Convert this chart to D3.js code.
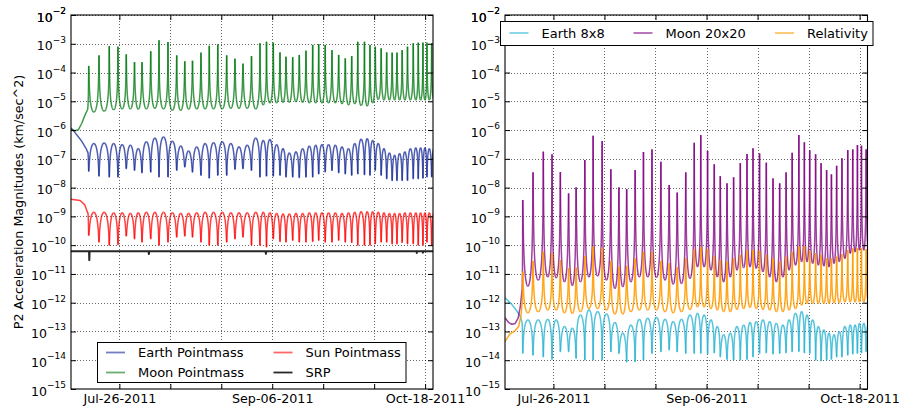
<!DOCTYPE html>
<html>
<head>
<meta charset="utf-8">
<script src="https://cdn.jsdelivr.net/npm/d3@7"></script>
<style>
  body { margin: 0; background: #fff; }
  svg { display: block; }
  text { font-family: "DejaVu Sans", sans-serif; fill: #000; }
</style>
</head>
<body>
<svg id="chart" width="900" height="408"></svg>
<script>
// ---------------------------------------------------------------
// P2 perturbing accelerations, Jul-12-2011 .. Oct-20-2011
// Values are log10 of acceleration magnitude in km/sec^2.
// ---------------------------------------------------------------
const startTime = "2011-07-12T17:00:00Z";
const endTime   = "2011-10-20T04:00:00Z";

// periselene passes, days after startTime
const periDays = [4.86, 7.69, 10.52, 12.91, 15.19, 17.45, 19.51, 21.90, 24.18, 26.65,
  29.04, 31.26, 33.38, 35.71, 37.99, 40.33, 42.77, 45.05, 47.25, 49.59,
  51.92, 53.71, 55.58, 57.42, 59.07, 60.91, 62.72, 64.56, 66.40, 68.05,
  69.84, 71.70, 73.54, 75.36, 77.12, 78.79, 80.63, 82.14, 83.60, 85.22,
  86.73, 88.24, 89.56, 90.99, 92.45, 94.04, 95.41, 96.70, 97.80, 99.09];

// Moon point mass: peak at each periselene, minimum between passes
const moonPmPeak = [-3.77, -3.40, -3.08, -3.10, -3.37, -3.64, -3.64, -3.26, -2.88, -2.94,
  -3.40, -3.61, -3.59, -3.31, -3.07, -3.02, -3.40, -3.52, -3.69, -3.43,
  -2.98, -2.93, -2.96, -3.30, -3.45, -3.47, -3.39, -3.24, -3.04, -3.01,
  -3.04, -3.22, -3.39, -3.51, -3.43, -2.93, -2.93, -3.04, -3.10, -3.16,
  -3.30, -3.31, -3.31, -3.22, -3.10, -2.98, -2.96, -2.96, -2.96, -2.98];
const moonPmLow = [-5.37, -5.34, -5.29, -5.26, -5.26, -5.27, -5.26, -5.24, -5.26, -5.31,
  -5.31, -5.27, -5.26, -5.26, -5.26, -5.26, -5.24, -5.24, -5.24, -5.26,
  -5.12, -5.05, -5.05, -5.03, -5.03, -5.01, -5.03, -5.05, -5.05, -5.05,
  -5.05, -5.05, -5.08, -5.12, -5.08, -5.14, -5.16, -5.05, -4.93, -4.95,
  -4.95, -4.95, -4.95, -4.95, -4.95, -4.95, -4.95, -4.95, -4.95];
const moonPmStart = [[0, -5.97], [1.1, -6.02], [2.0, -5.99], [2.9, -5.78], [3.85, -5.48], [4.5, -5.30]];

// Earth point mass: arch maximum between passes, dip at each pass
const earthPmTop = [-6.47, -6.45, -6.47, -6.51, -6.53, -6.65, -6.41, -6.28, -6.24, -6.39,
  -6.56, -6.74, -6.59, -6.47, -6.44, -6.41, -6.47, -6.59, -6.53, -6.28,
  -6.36, -6.33, -6.51, -6.65, -6.80, -6.76, -6.65, -6.56, -6.53, -6.51,
  -6.51, -6.53, -6.59, -6.65, -6.47, -6.32, -6.30, -6.36, -6.47, -6.65,
  -6.80, -6.88, -6.82, -6.76, -6.65, -6.62, -6.62, -6.62, -6.65];
const earthPmDip = [-7.43, -7.60, -7.63, -7.63, -7.34, -7.40, -7.48, -7.46, -7.63, -7.63,
  -7.40, -7.28, -7.46, -7.57, -7.67, -7.57, -7.57, -7.36, -7.34, -7.40,
  -7.63, -7.60, -7.60, -7.57, -7.63, -7.63, -7.65, -7.63, -7.63, -7.52,
  -7.45, -7.40, -7.48, -7.52, -7.57, -7.52, -7.55, -7.57, -7.40, -7.57,
  -7.69, -7.75, -7.75, -7.75, -7.75, -7.69, -7.69, -7.67, -7.63, -7.63];
const earthPmStart = [[0, -5.93], [1.0, -6.07], [2.8, -6.36], [4.2, -6.65], [4.6, -6.78]];

// Sun point mass
const sunPmTop = [-8.86, -8.86, -8.88, -8.88, -8.90, -8.88, -8.86, -8.86, -8.86, -8.88,
  -8.90, -8.90, -8.88, -8.86, -8.86, -8.86, -8.88, -8.88, -8.88, -8.86,
  -8.86, -8.88, -8.90, -8.92, -8.92, -8.90, -8.90, -8.88, -8.88, -8.88,
  -8.88, -8.88, -8.90, -8.88, -8.86, -8.84, -8.84, -8.84, -8.86, -8.88,
  -8.90, -8.90, -8.90, -8.88, -8.88, -8.88, -8.88, -8.88, -8.88];
const sunPmDip = [-9.66, -9.89, -10.00, -9.98, -9.68, -9.78, -9.89, -9.78, -10.00, -9.89,
  -9.72, -9.68, -9.72, -9.89, -10.00, -10.00, -9.89, -9.78, -9.72, -10.00,
  -10.00, -10.06, -9.78, -9.87, -9.89, -9.83, -9.89, -9.89, -9.87, -9.83,
  -9.89, -9.89, -9.83, -9.89, -9.91, -10.00, -10.00, -10.00, -9.95, -9.89,
  -9.89, -9.95, -9.95, -9.91, -9.95, -9.95, -10.00, -10.00, -9.89, -10.00];
const sunPmStart = [[0, -8.40], [2.5, -8.45], [3.8, -8.60], [4.3, -8.78], [4.6, -8.88]];

// Solar radiation pressure (short eclipse dips)
const srpDays = [0, 4.95, 5.03, 5.11, 21.30, 21.40, 21.50, 53.45, 53.55, 53.65,
  94.95, 95.00, 95.05, 96.65, 96.70, 96.75, 99.46];
const srpExp = [-10.21, -10.21, -10.52, -10.21, -10.21, -10.31, -10.21, -10.21, -10.30, -10.21,
  -10.21, -10.27, -10.21, -10.21, -10.26, -10.21, -10.21];

// Moon 20x20 gravity field
const moonHarmPeak = [-8.43, -7.47, -6.75, -6.84, -7.46, -8.20, -7.99, -7.04, -6.20, -6.38,
  -7.36, -7.99, -8.05, -7.39, -6.76, -6.67, -7.10, -7.91, -8.17, -7.47,
  -6.44, -6.17, -6.73, -7.19, -7.60, -7.85, -7.64, -7.15, -6.83, -6.63,
  -6.81, -7.13, -7.68, -7.85, -7.47, -6.79, -6.17, -6.42, -6.70, -6.84,
  -7.15, -7.39, -7.54, -7.24, -6.98, -6.69, -6.67, -6.52, -6.54, -6.67];
const moonHarmLow = [-11.42, -11.21, -11.10, -11.13, -11.27, -11.40, -11.27, -11.10, -11.07, -11.21,
  -11.50, -11.44, -11.27, -11.10, -11.10, -11.12, -11.21, -11.35, -11.33, -11.15,
  -10.75, -10.75, -10.86, -11.10, -11.27, -11.10, -10.86, -10.78, -10.75, -10.80,
  -10.92, -11.10, -11.27, -11.10, -10.86, -10.69, -10.57, -10.57, -10.63, -10.69,
  -10.72, -10.75, -10.63, -10.57, -10.46, -10.28, -10.23, -10.17, -10.17];
const moonHarmStart = [[0, -12.52], [1.0, -12.69], [1.9, -12.75], [2.8, -12.72], [3.6, -12.54], [4.2, -12.14], [4.67, -11.56]];

// Relativity
const relPeak = [-10.92, -10.55, -10.23, -10.28, -10.52, -10.80, -10.78, -10.38, -10.05, -10.09,
  -10.55, -10.75, -10.72, -10.46, -10.23, -10.23, -10.55, -10.63, -10.77, -10.46,
  -10.14, -10.07, -10.14, -10.38, -10.52, -10.57, -10.46, -10.34, -10.19, -10.17,
  -10.19, -10.34, -10.46, -10.57, -10.40, -10.23, -10.05, -10.03, -10.19, -10.28,
  -10.34, -10.46, -10.46, -10.40, -10.31, -10.17, -10.11, -10.11, -10.11, -10.14];
const relLow = [-12.35, -12.31, -12.25, -12.25, -12.35, -12.37, -12.31, -12.20, -12.20, -12.25,
  -12.39, -12.39, -12.31, -12.25, -12.25, -12.25, -12.31, -12.35, -12.31, -12.23,
  -12.14, -12.14, -12.20, -12.25, -12.31, -12.31, -12.23, -12.20, -12.16, -12.20,
  -12.23, -12.25, -12.31, -12.31, -12.25, -12.20, -12.08, -12.02, -12.02, -12.02,
  -12.02, -12.02, -12.00, -12.00, -11.97, -11.97, -11.97, -11.97, -11.97];
const relStart = [[0, -13.35], [1.4, -13.08], [2.8, -12.97], [3.75, -12.83], [4.4, -12.45], [4.67, -12.05]];

// Earth 8x8 gravity field
const earthHarmTop = [-12.60, -12.60, -12.58, -12.60, -12.83, -12.89, -12.43, -12.25, -12.31, -12.39,
  -12.69, -13.06, -12.78, -12.58, -12.54, -12.51, -12.58, -12.66, -12.58, -12.43,
  -12.37, -12.43, -12.60, -12.83, -13.12, -13.06, -12.83, -12.78, -12.69, -12.66,
  -12.60, -12.66, -12.72, -12.78, -12.60, -12.37, -12.31, -12.43, -12.60, -12.83,
  -12.95, -13.06, -13.12, -13.01, -12.83, -12.78, -12.78, -12.72, -12.72];
const earthHarmDip = [-13.76, -13.82, -13.88, -13.97, -13.70, -13.70, -13.93, -13.99, -13.99, -13.99,
  -13.70, -13.76, -14.05, -14.05, -13.99, -13.76, -13.70, -13.64, -13.70, -13.76,
  -13.76, -13.76, -13.78, -13.74, -13.88, -13.97, -13.99, -13.99, -13.97, -13.88,
  -13.76, -13.74, -13.78, -13.76, -13.74, -13.70, -13.70, -13.74, -13.76, -13.99,
  -14.02, -13.99, -13.97, -13.88, -13.88, -13.82, -13.78, -13.76, -13.74, -13.70];
const earthHarmStart = [[0, -11.83], [1.8, -12.05], [3.2, -12.28], [4.2, -12.48], [4.6, -12.65]];

// axis ticks
const yExponents = d3.range(-15, -1);      // 10^-15 .. 10^-3
const xTickDates = ["2011-07-26", "2011-08-09", "2011-08-23", "2011-09-06", "2011-09-20", "2011-10-04", "2011-10-18"];
const xLabelDates = ["2011-07-26", "2011-09-06", "2011-10-18"];

const leftLegend = [
  { name: "Earth Pointmass", color: "#142896" },
  { name: "Moon Pointmass",  color: "#007a10" },
  { name: "Sun Pointmass",   color: "#ff0000" },
  { name: "SRP",             color: "#000000" }
];
const rightLegend = [
  { name: "Earth 8x8",  color: "#28b4d2" },
  { name: "Moon 20x20", color: "#800080" },
  { name: "Relativity", color: "#ff9c00" }
];

// ---------------------------------------------------------------
// profile builders: each orbit is split into half arcs, one path each
// ---------------------------------------------------------------
const N = 90;

// eccentricity giving the requested peak/minimum ratio for a 1/r^n law
function ecc(P, T, n) { const q = Math.pow(10, (P - T) / n); return (q - 1) / (q + 1); }

// periselene -> aposelene, sampled in eccentric anomaly
function fallArc(tA, tM, P, T, n) {
  const e = ecc(P, T, n), pts = [];
  for (let k = 0; k <= N; k++) {
    const E = Math.PI * k / N, f = (E - e * Math.sin(E)) / Math.PI;
    pts.push([tA + f * (tM - tA), T + n * Math.log10((1 + e) / (1 - e * Math.cos(E)))]);
  }
  return pts;
}
// aposelene -> periselene
function riseArc(tM, tB, T, P, n) {
  const e = ecc(P, T, n), pts = [];
  for (let k = 0; k <= N; k++) {
    const E = Math.PI + Math.PI * k / N, f = (E - e * Math.sin(E) - Math.PI) / Math.PI;
    pts.push([tM + f * (tB - tM), T + n * Math.log10((1 + e) / (1 - e * Math.cos(E)))]);
  }
  return pts;
}
function spikeProfile(start, peaks, lows, n) {
  const segs = [start.slice()];
  const last = start[start.length - 1];
  segs.push(riseArc(last[0], periDays[0], last[1], peaks[0], n));
  for (let i = 0; i < periDays.length; i++) {
    const tA = periDays[i];
    const tB = i + 1 < periDays.length ? periDays[i + 1] : tA + (tA - periDays[i - 1]);
    const T = lows[Math.min(i, lows.length - 1)], tM = (tA + tB) / 2;
    segs.push(fallArc(tA, tM, peaks[i], T, n));
    if (i + 1 < periDays.length) segs.push(riseArc(tM, tB, T, peaks[i + 1], n));
  }
  return segs;
}

// arch between two passes with a finite-depth notch at each pass
function archArc(tCusp, tTop, A, C) {
  const eps = Math.pow(10, C - A), pts = [];
  for (let k = 0; k <= N; k++) {
    const w = 1 - Math.cos(Math.PI / 2 * k / N);          // dense near the notch
    const s = Math.sin(Math.PI * 0.5 * w);
    pts.push([tCusp + w * (tTop - tCusp), A + 0.5 * Math.log10(s * s + eps * eps)]);
  }
  return pts;
}
function archProfile(start, tops, dips) {
  const segs = [start.slice()];
  const last = start[start.length - 1];
  segs.push(archArc(periDays[0], last[0], last[1], dips[0]));
  for (let i = 0; i < periDays.length; i++) {
    const tA = periDays[i];
    const tB = i + 1 < periDays.length ? periDays[i + 1] : tA + (tA - periDays[i - 1]);
    const A = tops[Math.min(i, tops.length - 1)], tM = (tA + tB) / 2;
    segs.push(archArc(tA, tM, A, dips[i]));
    if (i + 1 < periDays.length) segs.push(archArc(tB, tM, A, dips[i + 1]));
  }
  return segs;
}

// ---------------------------------------------------------------
// chart
// ---------------------------------------------------------------
const svg = d3.select("#chart");
const DAY = 86400000;
const t0 = new Date(startTime), t1 = new Date(endTime);
const toDate = d => new Date(t0.getTime() + d * DAY);
const yTop = 15, yBot = 389;
const y = d3.scaleLog().domain([1e-15, 1e-2]).range([yBot, yTop]);

const panels = [
  { id: "L", x0: 71, x1: 433,
    series: [
      { segs: archProfile(earthPmStart, earthPmTop, earthPmDip), color: leftLegend[0].color, op: 0.75 },
      { segs: spikeProfile(moonPmStart, moonPmPeak, moonPmLow, 2), color: leftLegend[1].color, op: 0.75 },
      { segs: archProfile(sunPmStart, sunPmTop, sunPmDip), color: leftLegend[2].color, op: 0.75 },
      { segs: [srpDays.map((d, i) => [d, srpExp[i]])], color: leftLegend[3].color, op: 0.85, w: 2 }
    ] },
  { id: "R", x0: 505, x1: 867.5,
    series: [
      { segs: archProfile(earthHarmStart, earthHarmTop, earthHarmDip), color: rightLegend[0].color, op: 0.78 },
      { segs: spikeProfile(moonHarmStart, moonHarmPeak, moonHarmLow, 4), color: rightLegend[1].color, op: 0.75 },
      { segs: spikeProfile(relStart, relPeak, relLow, 2), color: rightLegend[2].color, op: 0.88 }
    ] }
];

const parseDay = d3.utcParse("%Y-%m-%d");
const fmt = d3.utcFormat("%b-%d-%Y");
const tickDates = xTickDates.map(parseDay);
const labelSet = new Set(xLabelDates);

panels.forEach(p => {
  const x = d3.scaleUtc().domain([t0, t1]).range([p.x0, p.x1]);
  const g = svg.append("g");

  svg.append("clipPath").attr("id", "clip" + p.id)
    .append("rect").attr("x", p.x0).attr("y", yTop).attr("width", p.x1 - p.x0).attr("height", yBot - yTop);

  // dotted grid
  const grid = g.append("g").attr("stroke", "#000").attr("stroke-width", 0.8)
    .attr("stroke-dasharray", "1,2").attr("stroke-opacity", 0.75);
  grid.selectAll("line.h").data(yExponents.slice(1)).join("line")
    .attr("x1", p.x0).attr("x2", p.x1)
    .attr("y1", e => Math.round(y(Math.pow(10, e))) + 0.5).attr("y2", e => Math.round(y(Math.pow(10, e))) + 0.5);
  grid.selectAll("line.v").data(tickDates).join("line")
    .attr("y1", yTop).attr("y2", yBot)
    .attr("x1", d => Math.round(x(d)) + 0.5).attr("x2", d => Math.round(x(d)) + 0.5);

  // series
  const line = d3.line().x(d => x(toDate(d[0]))).y(d => y(Math.pow(10, d[1])));
  const plot = g.append("g").attr("clip-path", `url(#clip${p.id})`);
  p.series.forEach(s => {
    plot.append("g")
      .attr("fill", "none").attr("stroke", s.color)
      .attr("stroke-width", s.w || 1.5)
      .attr("stroke-opacity", s.op)
      .attr("stroke-linejoin", "round")
      .selectAll("path").data(s.segs).join("path")
      .attr("d", seg => line(seg.filter(q => q[0] <= (t1 - t0) / DAY + 0.5)));
  });

  // frame
  g.append("rect").attr("x", p.x0).attr("y", yTop).attr("width", p.x1 - p.x0).attr("height", yBot - yTop)
    .attr("fill", "none").attr("stroke", "#000").attr("stroke-width", 1.1);

  // y axis (left, with labels) and mirrored ticks on the right
  const yVals = yExponents.map(e => Math.pow(10, e)).concat([1e-2]);
  const ay = g.append("g").attr("transform", `translate(${p.x0},0)`)
    .call(d3.axisLeft(y).tickValues(yVals).tickSizeInner(-5).tickSizeOuter(0).tickPadding(5));
  ay.select(".domain").remove();
  ay.selectAll(".tick text").each(function (d) {
    const e = Math.round(Math.log10(d));
    const t = d3.select(this).attr("font-size", 12.5).attr("font-family", "DejaVu Sans").attr("dy", "0.48em").text("10");
    t.append("tspan").attr("dy", -7.5).attr("font-size", 9).text("\u2212" + (-e));
  });
  const ayr = g.append("g").attr("transform", `translate(${p.x1},0)`)
    .call(d3.axisRight(y).tickValues(yVals).tickSizeInner(-5).tickSizeOuter(0).tickFormat(""));
  ayr.select(".domain").remove();

  // x axis bottom (labels every third tick) and top ticks
  const ax = g.append("g").attr("transform", `translate(0,${yBot})`)
    .call(d3.axisBottom(x).tickValues(tickDates).tickSizeInner(-5).tickSizeOuter(0).tickPadding(5)
      .tickFormat(d => labelSet.has(d3.utcFormat("%Y-%m-%d")(d)) ? fmt(d) : ""));
  ax.select(".domain").remove();
  ax.selectAll(".tick text").attr("font-size", 12.7).attr("font-family", "DejaVu Sans");
  const axt = g.append("g").attr("transform", `translate(0,${yTop})`)
    .call(d3.axisTop(x).tickValues(tickDates).tickSizeInner(-5).tickSizeOuter(0).tickFormat(""));
  axt.select(".domain").remove();
});

// y axis title
svg.append("text")
  .attr("transform", "translate(23,202) rotate(-90)")
  .attr("text-anchor", "middle").attr("font-size", 12.7)
  .text("P2 Acceleration Magnitudes (km/sec^2)");

// legends
function legend(items, box, cols) {
  const g = svg.append("g");
  g.append("rect").attr("x", box.x).attr("y", box.y).attr("width", box.w).attr("height", box.h)
    .attr("fill", "#fff").attr("stroke", "#000").attr("stroke-width", 1);
  items.forEach((it, i) => {
    const c = cols(i);
    g.append("line").attr("x1", c.x).attr("x2", c.x + 19).attr("y1", c.y).attr("y2", c.y)
      .attr("stroke", it.color).attr("stroke-width", 1.8).attr("stroke-opacity", it.name === "SRP" ? 0.85 : 0.6);
    g.append("text").attr("x", c.x + 32).attr("y", c.y).attr("dy", "0.36em")
      .attr("font-size", 13).text(it.name);
  });
}
legend(leftLegend, { x: 97.5, y: 342.5, w: 308.5, h: 40 },
  i => ({ x: i < 2 ? 106 : 273.5, y: i % 2 === 0 ? 352.5 : 372.5 }));
legend(rightLegend, { x: 500.5, y: 21.5, w: 372.5, h: 24 },
  i => ({ x: [509.5, 633.5, 775][i], y: 33 }));
</script>
</body>
</html>
